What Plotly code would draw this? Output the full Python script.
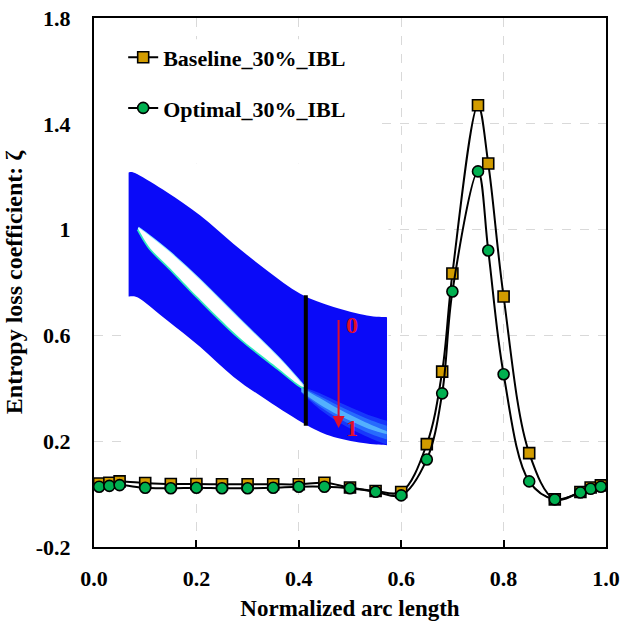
import plotly.graph_objects as go

# ---- data: entropy loss coefficient along the normalized arc length ----
arc = [0.01, 0.03, 0.05, 0.10, 0.15, 0.20, 0.25, 0.30, 0.35, 0.40, 0.45, 0.50,
       0.55, 0.60, 0.65, 0.68, 0.70, 0.75, 0.77, 0.80, 0.85, 0.90, 0.95, 0.97, 0.99]
baseline = [0.040, 0.043, 0.048, 0.042, 0.038, 0.038, 0.037, 0.037, 0.037, 0.037,
            0.043, 0.025, 0.012, 0.008, 0.189, 0.463, 0.834, 1.47, 1.25, 0.747,
            0.155, -0.020, 0.008, 0.025, 0.033]
optimal = [0.028, 0.031, 0.034, 0.024, 0.022, 0.024, 0.022, 0.022, 0.024, 0.028,
           0.028, 0.022, 0.009, -0.005, 0.131, 0.381, 0.766, 1.22, 0.921, 0.453,
           0.048, -0.020, 0.006, 0.020, 0.028]

x_ticks = [0.0, 0.2, 0.4, 0.6, 0.8, 1.0]
x_ticktext = ["0.0", "0.2", "0.4", "0.6", "0.8", "1.0"]
y_ticks = [-0.2, 0.2, 0.6, 1.0, 1.4, 1.8]
y_ticktext = ["-0.2", "0.2", "0.6", "1", "1.4", "1.8"]

FONT = "Liberation Serif"
BLUE = "#0a0af8"
RED = "#e0102a"


def smooth_path(pts):
    """Catmull-Rom curve through pts, returned as an SVG path of cubic Beziers."""
    n = len(pts)
    d = f"M{pts[0][0]:.4f},{pts[0][1]:.4f}"
    for i in range(n - 1):
        p0 = pts[i - 1] if i > 0 else pts[i]
        p1, p2 = pts[i], pts[i + 1]
        p3 = pts[i + 2] if i + 2 < n else pts[i + 1]
        c1 = (p1[0] + (p2[0] - p0[0]) / 6, p1[1] + (p2[1] - p0[1]) / 6)
        c2 = (p2[0] - (p3[0] - p1[0]) / 6, p2[1] - (p3[1] - p1[1]) / 6)
        d += f" C{c1[0]:.4f},{c1[1]:.4f} {c2[0]:.4f},{c2[1]:.4f} {p2[0]:.4f},{p2[1]:.4f}"
    return d


def closed_outline(first, second):
    """Two smooth edges joined into one closed outline."""
    return smooth_path(first) + " L" + smooth_path(second)[1:] + " Z"


def band(center, half):
    """Closed band around a centre line with the given vertical half-widths."""
    up = [(x, y + h) for (x, y), h in zip(center, half)]
    lo = [(x, y - h) for (x, y), h in zip(center, half)][::-1]
    return closed_outline(up, lo)


fig = go.Figure()

fig.add_trace(go.Scatter(
    x=arc, y=baseline, name="Baseline_30%_IBL", mode="lines+markers",
    line=dict(color="black", width=2, shape="spline", smoothing=1.0),
    marker=dict(symbol="square", size=11, color="#d29c00",
                line=dict(color="black", width=1.6)),
    legendgroup="a",
))
fig.add_trace(go.Scatter(
    x=arc, y=optimal, name="Optimal_30%_IBL", mode="lines+markers",
    line=dict(color="black", width=2, shape="spline", smoothing=1.0),
    marker=dict(symbol="circle", size=11, color="#00b050",
                line=dict(color="black", width=1.6)),
    legendgroup="b",
))

shapes = []

# white panels behind the legend and the inset (hide the grid there)
for x0, x1, y0, y1 in [(0.0, 0.545, 1.25, 1.72), (0.0, 0.575, 0.75, 1.25),
                       (0.064, 0.575, 0.19, 0.75)]:
    shapes.append(dict(type="rect", xref="x", yref="y", x0=x0, x1=x1, y0=y0, y1=y1,
                       fillcolor="white", line=dict(width=0), layer="between"))

# ---- inset: blade passage contour ----
passage_top = [(0.0676, 1.216), (0.084, 1.210), (0.1426, 1.141), (0.2076, 1.053),
               (0.2727, 0.946), (0.3379, 0.845), (0.4029, 0.757), (0.468, 0.707),
               (0.5332, 0.675), (0.5723, 0.669)]
passage_bot = [(0.5723, 0.185), (0.533, 0.191), (0.468, 0.216), (0.416, 0.260),
               (0.338, 0.355), (0.2727, 0.443), (0.2076, 0.556), (0.1426, 0.657),
               (0.0904, 0.738), (0.0676, 0.747)]
shapes.append(dict(type="path", xref="x", yref="y",
                   path=closed_outline(passage_top, passage_bot),
                   fillcolor=BLUE, line=dict(width=0), layer="between"))

# wake behind the trailing edge: soft cyan streak fading downstream
wake_center = [(0.405, 0.395), (0.44, 0.352), (0.48, 0.308), (0.53, 0.262), (0.572, 0.232)]
for half, col in [([0.012, 0.03, 0.038, 0.042, 0.045], "rgba(40,110,255,0.45)"),
                  ([0.010, 0.020, 0.024, 0.026, 0.026], "rgba(60,170,255,0.45)"),
                  ([0.008, 0.012, 0.012, 0.010, 0.006], "rgba(120,235,255,0.55)")]:
    shapes.append(dict(type="path", xref="x", yref="y", path=band(wake_center, half),
                       fillcolor=col, line=dict(width=0), layer="between"))

blade_upper = [(0.0865, 1.0075), (0.110, 0.974), (0.149, 0.913), (0.2037, 0.816),
               (0.2818, 0.666), (0.36, 0.517), (0.4021, 0.426), (0.41, 0.408)]
blade_lower = [(0.41, 0.404), (0.3986, 0.415), (0.36, 0.475), (0.2818, 0.596),
               (0.2037, 0.743), (0.149, 0.853), (0.110, 0.929), (0.0865, 1.002)]
# glow along both blade surfaces
shapes.append(dict(type="path", xref="x", yref="y", path=smooth_path(blade_lower),
                   line=dict(color="#2ee8c0", width=3.5), layer="between"))
shapes.append(dict(type="path", xref="x", yref="y", path=smooth_path(blade_upper),
                   line=dict(color="#8fe6ff", width=2), layer="between"))
shapes.append(dict(type="path", xref="x", yref="y",
                   path=closed_outline(blade_upper, blade_lower),
                   fillcolor="white", line=dict(width=0), layer="between"))

# pitchwise sampling line
shapes.append(dict(type="line", xref="x", yref="y", x0=0.4137, x1=0.4137,
                   y0=0.258, y1=0.752, line=dict(color="black", width=4),
                   layer="between"))

annotations = [
    dict(x=0.4777, y=0.250, ax=0.4777, ay=0.664, xref="x", yref="y",
         axref="x", ayref="y", text="", showarrow=True, arrowhead=2,
         arrowsize=1.2, arrowwidth=2, arrowcolor=RED),
    dict(x=0.5045, y=0.638, xref="x", yref="y", text="<b>0</b>", showarrow=False,
         font=dict(family=FONT, size=24, color=RED)),
    dict(x=0.5045, y=0.249, xref="x", yref="y", text="<b>1</b>", showarrow=False,
         font=dict(family=FONT, size=24, color=RED)),
]

axis_common = dict(
    showline=True, linecolor="black", linewidth=2, mirror=True,
    showgrid=True, gridcolor="#d9d9d9", gridwidth=1, griddash="dash",
    zeroline=False, automargin=False,
    tickfont=dict(family=FONT, size=22, color="black", weight="bold"),
)

fig.update_layout(
    width=623, height=621,
    margin=dict(l=94, r=17, t=18, b=74),
    paper_bgcolor="white", plot_bgcolor="white",
    shapes=shapes, annotations=annotations,
    font=dict(family=FONT, color="black"),
    legend=dict(
        x=0.057, y=0.965, xanchor="left", yanchor="top",
        bgcolor="rgba(0,0,0,0)", tracegroupgap=19, itemwidth=30,
        font=dict(family=FONT, size=22, color="black", weight="bold"),
    ),
    xaxis=dict(
        range=[0, 1], tickvals=x_ticks, ticktext=x_ticktext,
        ticks="inside", ticklen=7, tickwidth=2, tickcolor="black",
        ticklabelstandoff=11,
        title=dict(text="<b>Normalized arc length</b>", standoff=14,
                   font=dict(family=FONT, size=23, color="black")),
        **axis_common,
    ),
    yaxis=dict(
        range=[-0.2, 1.8], tickvals=y_ticks, ticktext=y_ticktext,
        ticks="", ticklabelstandoff=17,
        title=dict(text="<b>Entropy loss coefficient: ζ</b>", standoff=6,
                   font=dict(family=FONT, size=24, color="black")),
        **axis_common,
    ),
)

fig.write_html("out.html")
